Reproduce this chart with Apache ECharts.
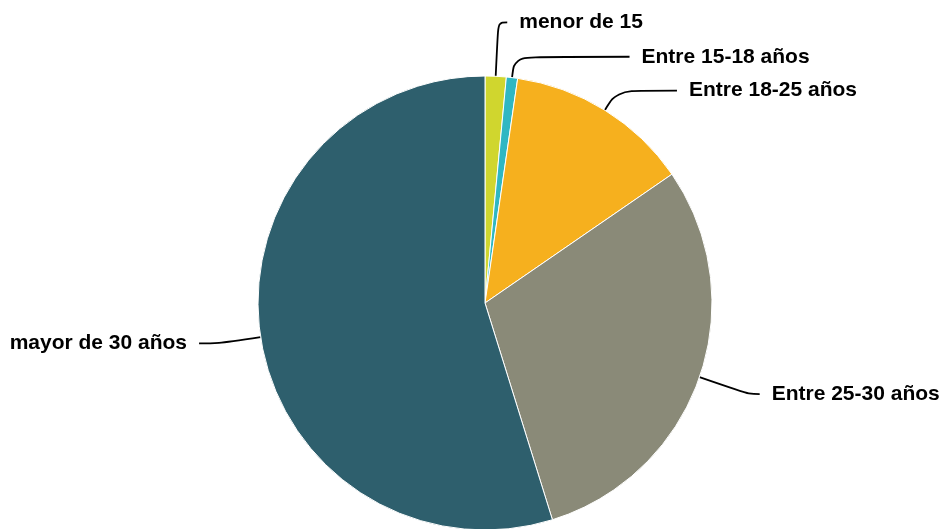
<!DOCTYPE html>
<html>
<head>
<meta charset="utf-8">
<script src="https://cdn.jsdelivr.net/npm/echarts@6/dist/echarts.min.js"></script>
<style>
  html, body { margin: 0; padding: 0; background: #ffffff; }
  #chart { width: 943px; height: 529px; }
</style>
</head>
<body>
<div id="chart"></div>
<script>
// Age groups and their share (%)
const categories = ['menor de 15', 'Entre 15-18 años', 'Entre 18-25 años', 'Entre 25-30 años', 'mayor de 30 años'];
const shares = [1.5, 0.8, 13.1, 29.8, 54.8];
const colors = ['#d0d62e', '#2fb7c3', '#f6b01e', '#8a8a78', '#2e5f6d'];
// Leader-line lengths per slice (radial part, horizontal part)
const lineLen = [54, 21, 23, 52, 42];
const lineLen2 = [9, 115, 60, 11, 20];

const chart = echarts.init(document.getElementById('chart'), null, { renderer: 'canvas' });

const data = categories.map((name, i) => ({
  name: name,
  value: shares[i],
  itemStyle: { color: colors[i] },
  labelLine: { length: lineLen[i], length2: lineLen2[i] }
}));

chart.setOption({
  animation: false,
  series: [{
    type: 'pie',
    center: [485, 303],
    radius: 227,
    startAngle: 90,
    clockwise: true,
    avoidLabelOverlap: false,
    data: data,
    itemStyle: { borderColor: '#ffffff', borderWidth: 1 },
    label: {
      show: true,
      position: 'outside',
      formatter: '{b}',
      color: '#000000',
      fontFamily: '"Liberation Sans", Arial, sans-serif',
      fontWeight: 'bold',
      fontSize: 21,
      distanceToLabelLine: 12
    },
    labelLine: {
      show: true,
      smooth: 0.4,
      lineStyle: { color: '#000000', width: 1.8 }
    },
    emphasis: { disabled: true }
  }]
});
</script>
</body>
</html>
